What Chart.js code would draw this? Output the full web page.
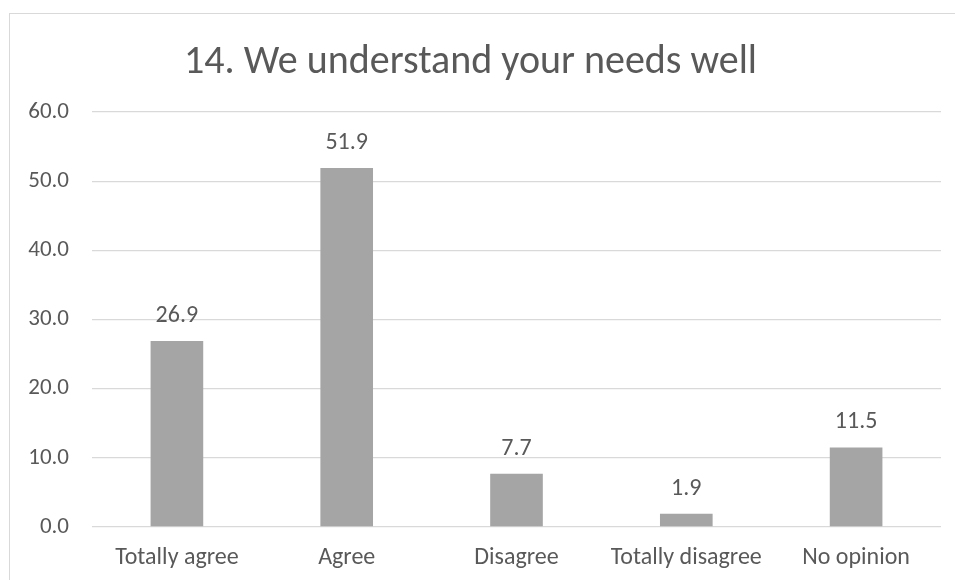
<!DOCTYPE html>
<html>
<head>
<meta charset="utf-8">
<script src="https://cdn.jsdelivr.net/npm/chart.js@4/dist/chart.umd.min.js"></script>
<style>
    html, body { margin: 0; padding: 0; background: #fff; }
    #frame {
        position: absolute; left: 9px; top: 13px;
        width: 980px; height: 600px;
        border: 1.5px solid #d9d9d9; box-sizing: border-box;
    }
    #wrap { position: absolute; left: 0; top: 0; width: 955px; height: 580px; }
</style>
</head>
<body>
<div id="frame"></div>
<div id="wrap"><canvas id="chart" width="955" height="580"></canvas></div>
<script>
// Chart data
const categories = ['Totally agree', 'Agree', 'Disagree', 'Totally disagree', 'No opinion'];
const percentages = [26.9, 51.9, 7.7, 1.9, 11.5];
const yTicks = [0, 10, 20, 30, 40, 50, 60];

const textColor = '#595959';
const fontFamily = 'Carlito, Calibri, "Liberation Sans", sans-serif';

// Value labels above each bar
const valueLabels = {
    id: 'valueLabels',
    afterDatasetsDraw(chart) {
        const ctx = chart.ctx;
        const meta = chart.getDatasetMeta(0);
        ctx.save();
        ctx.fillStyle = textColor;
        ctx.font = '24px ' + fontFamily;
        ctx.textAlign = 'center';
        ctx.textBaseline = 'alphabetic';
        meta.data.forEach((bar, i) => {
            ctx.fillText(percentages[i].toFixed(1), bar.x, bar.y - 19);
        });
        ctx.restore();
    }
};

new Chart(document.getElementById('chart').getContext('2d'), {
    type: 'bar',
    data: {
        labels: categories,
        datasets: [{
            data: percentages,
            backgroundColor: '#a5a5a5',
            borderWidth: 0,
            categoryPercentage: 1,
            barPercentage: 0.31
        }]
    },
    options: {
        responsive: false,
        animation: false,
        layout: { padding: { left: 0, right: 14, top: 0, bottom: 0 } },
        plugins: {
            legend: { display: false },
            tooltip: { enabled: false },
            title: {
                display: true,
                text: '14. We understand your needs well',
                color: textColor,
                font: { family: fontFamily, size: 40, weight: 'normal' },
                padding: { top: 39, bottom: 25 }
            }
        },
        scales: {
            x: {
                grid: { display: false, drawTicks: false },
                border: { display: false },
                ticks: {
                    color: textColor,
                    font: { family: fontFamily, size: 24 },
                    padding: 17,
                    maxRotation: 0
                },
                afterFit(scale) { scale.height = 53; }
            },
            y: {
                min: 0,
                max: 60,
                afterBuildTicks(scale) { scale.ticks = yTicks.map(v => ({ value: v })); },
                grid: { color: '#d9d9d9', lineWidth: 1.3, drawTicks: false },
                border: { display: false },
                ticks: {
                    color: textColor,
                    font: { family: fontFamily, size: 23 },
                    padding: 23,
                    callback: v => Number(v).toFixed(1)
                },
                afterFit(scale) { scale.width = 92; }
            }
        }
    },
    plugins: [valueLabels]
});
</script>
</body>
</html>
